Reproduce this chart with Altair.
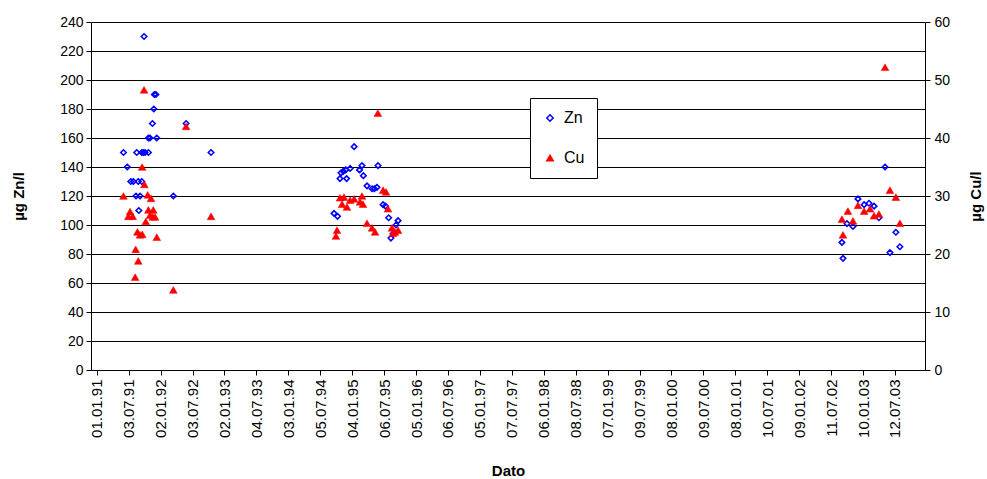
import altair as alt
import pandas as pd

# ---- data ----
tick_labels = ["01.01.91", "03.07.91", "02.01.92", "03.07.92", "02.01.93", "04.07.93",
               "03.01.94", "05.07.94", "04.01.95", "06.07.95", "05.01.96", "06.07.96",
               "05.01.97", "07.07.97", "06.01.98", "08.07.98", "07.01.99", "09.07.99",
               "08.01.00", "09.07.00", "08.01.01", "10.07.01", "09.01.02", "11.07.02",
               "10.01.03", "12.07.03"]

zn_dates = [
    "1991-06-03", "1991-06-25", "1991-07-15", "1991-07-30", "1991-08-27", "1991-09-16",
    "1991-08-14", "1991-09-06", "1992-03-15", "1991-08-30",
    "1991-08-18", "1991-09-16", "1991-09-25", "1991-10-05", "1991-10-24", "1992-10-17",
    "1991-10-24", "1991-11-02", "1991-12-11", "1991-11-16", "1991-11-24", "1991-11-27",
    "1991-12-06", "1991-09-29", "1992-05-27",
    "1994-09-22", "1994-10-12", "1994-10-26", "1994-12-03", "1994-11-01", "1994-11-14",
    "1994-11-28", "1994-12-23", "1995-01-15", "1995-02-15", "1995-03-01", "1995-03-09",
    "1995-03-30", "1995-04-28", "1995-05-11", "1995-05-26", "1995-06-01", "1995-06-30",
    "1995-07-14", "1995-08-01", "1995-08-14", "1995-08-26", "1995-09-12", "1995-09-24",
    "2003-05-16", "2002-12-12", "2003-01-16", "2003-02-13", "2003-03-14", "2003-04-11",
    "2002-10-10", "2002-11-13", "2003-07-17", "2002-09-11", "2003-08-09", "2003-06-13",
    "2002-09-17"]
zn_values = [
    150, 140, 130, 130, 130, 130,
    120, 120, 120, 110,
    150, 150, 150, 150, 150, 150,
    160, 160, 160, 170, 180, 190,
    190, 230, 170,
    108, 106, 132, 132, 136, 137,
    138, 139, 154, 138, 141, 134,
    127, 125, 125, 126, 141, 114,
    113, 105, 91, 94, 100, 103,
    140, 118, 114, 115, 113, 105,
    101, 99, 95, 88, 85, 81,
    77]

cu_dates = [
    "1991-09-29", "1992-05-27", "1991-09-18", "1991-10-01", "1991-06-03", "1991-10-20",
    "1991-11-08", "1991-07-11", "1991-07-01", "1991-07-26", "1991-10-24", "1991-11-21",
    "1991-11-02", "1991-11-18", "1991-12-01", "1991-10-09", "1992-10-17", "1991-08-22",
    "1991-09-06", "1991-09-19", "1991-12-11", "1991-08-12", "1991-08-27", "1991-08-09",
    "1992-03-15",
    "1995-05-31", "1995-06-30", "1995-07-17", "1994-10-26", "1994-11-18", "1995-07-28",
    "1994-12-23", "1995-01-15", "1995-02-18", "1995-03-07", "1995-03-01", "1994-11-07",
    "1994-12-05", "1995-03-30", "1995-04-28", "1995-05-15", "1994-10-09", "1994-10-03",
    "1995-08-20", "1995-09-06", "1995-09-24", "1995-08-26",
    "2003-05-16", "2003-06-13", "2003-07-17", "2002-10-15", "2002-12-12", "2003-01-16",
    "2003-02-19", "2003-03-14", "2003-04-11", "2002-09-11", "2002-11-13", "2003-08-09",
    "2002-09-17"]
cu_values = [
    48.3, 42.0, 35.0, 32.0, 30.0, 30.2,
    29.6, 27.3, 26.5, 26.5, 27.6, 27.6,
    26.7, 26.4, 26.4, 25.6, 26.5, 23.8,
    23.3, 23.4, 22.9, 20.8, 18.8, 16.0,
    13.8,
    44.3, 31.0, 30.7, 29.7, 29.8, 27.8,
    29.3, 29.5, 29.0, 28.6, 30.0, 28.6,
    28.1, 25.3, 24.5, 23.8, 24.1, 23.1,
    24.5, 23.8, 24.1, 23.6,
    52.2, 31.0, 29.8, 27.4, 28.4, 27.4,
    27.8, 26.6, 26.9, 26.0, 25.7, 25.3,
    23.3]

series_names = ["Zn", "Cu"]
zn_ticks = list(range(0, 241, 20))
cu_ticks = list(range(0, 61, 10))

# ---- build tables ----
zn_df = pd.DataFrame({"date": zn_dates, "value": zn_values, "series": "Zn"})
cu_df = pd.DataFrame({"date": cu_dates, "value": cu_values, "series": "Cu"})


def to_dt(lbl):
    d, m, y = lbl.split(".")
    yy = int(y)
    yy = 1900 + yy if yy > 50 else 2000 + yy
    return alt.DateTime(year=yy, month=int(m), date=int(d), utc=True)


tick_dt = [to_dt(t) for t in tick_labels]
x_domain = [alt.DateTime(year=1990, month=11, date=29, utc=True),
            alt.DateTime(year=2003, month=12, date=31, utc=True)]

FONT = "Liberation Sans"

x_enc = alt.X(
    "date:T",
    scale=alt.Scale(type="utc", domain=x_domain),
    axis=alt.Axis(
        values=tick_dt,
        labelExpr="utcFormat(datum.value, '%d.%m.%y')",
        labelAngle=270,
        labelFontSize=15,
        labelFont=FONT,
        labelColor="black",
        labelPadding=4,
        tickSize=5,
        tickColor="black",
        domainColor="black",
        grid=False,
        title="Dato",
        titleFont=FONT,
        titleFontSize=15,
        titleFontWeight="bold",
        titleY=100,
        titleBaseline="middle",
        labelOverlap=False,
        labelFlush=False,
    ),
)

shape_enc = alt.Shape("series:N", scale=alt.Scale(domain=series_names, range=["diamond", "triangle-up"]),
                      legend=alt.Legend(title=None, orient="none", legendX=439, legendY=76,
                                        fillColor="white", strokeColor="black", padding=12,
                                        rowPadding=24, labelFontSize=16, labelFont=FONT,
                                        labelColor="black", symbolStrokeWidth=1.5, symbolSize=40,
                                        labelOffset=6))
stroke_enc = alt.Stroke("series:N", scale=alt.Scale(domain=series_names, range=["#0000FF", "#FF0000"]),
                        legend=alt.Legend(title=None, orient="none", legendX=439, legendY=76))
fill_enc = alt.Fill("series:N", scale=alt.Scale(domain=series_names, range=["transparent", "#FF0000"]),
                    legend=alt.Legend(title=None, orient="none", legendX=439, legendY=76))

zn_layer = alt.Chart(zn_df).mark_point(filled=True, size=30, strokeWidth=1.6, opacity=1).encode(
    x=x_enc,
    y=alt.Y("value:Q",
            scale=alt.Scale(domain=[0, 240], nice=False, zero=True),
            axis=alt.Axis(values=zn_ticks, orient="left", grid=True, gridColor="black",
                          gridWidth=1, gridOpacity=1, tickSize=5, tickColor="black",
                          domainColor="black", labelFontSize=14, labelFont=FONT,
                          labelColor="black", labelPadding=3,
                          title="µg Zn/l", titleFont=FONT, titleFontSize=15,
                          titleFontWeight="bold", titleAngle=270, titleX=-73, titleY=174,
                          titleAlign="center", titleBaseline="middle")),
    shape=shape_enc, stroke=stroke_enc, fill=fill_enc,
)

cu_layer = alt.Chart(cu_df).mark_point(filled=True, size=60, strokeWidth=0.5, opacity=1).encode(
    x=x_enc,
    y=alt.Y("value:Q",
            scale=alt.Scale(domain=[0, 60], nice=False, zero=True),
            axis=alt.Axis(values=cu_ticks, orient="right", grid=False, tickSize=5,
                          tickColor="black", domainColor="black", labelFontSize=14,
                          labelFont=FONT, labelColor="black", labelPadding=4,
                          title="µg Cu/l", titleFont=FONT, titleFontSize=15,
                          titleFontWeight="bold", titleAngle=270, titleX=50, titleY=174,
                          titleAlign="center", titleBaseline="middle")),
    shape=shape_enc, stroke=stroke_enc, fill=fill_enc,
)

chart = alt.layer(zn_layer, cu_layer).resolve_scale(y="independent").properties(
    width=834, height=348,
    autosize=alt.AutoSizeParams(type="none"),
    padding={"left": 91, "top": 22, "right": 62, "bottom": 109},
    background="white",
).configure_view(stroke=None)

chart.save("out.html", embed_options={"renderer": "svg", "actions": False})
